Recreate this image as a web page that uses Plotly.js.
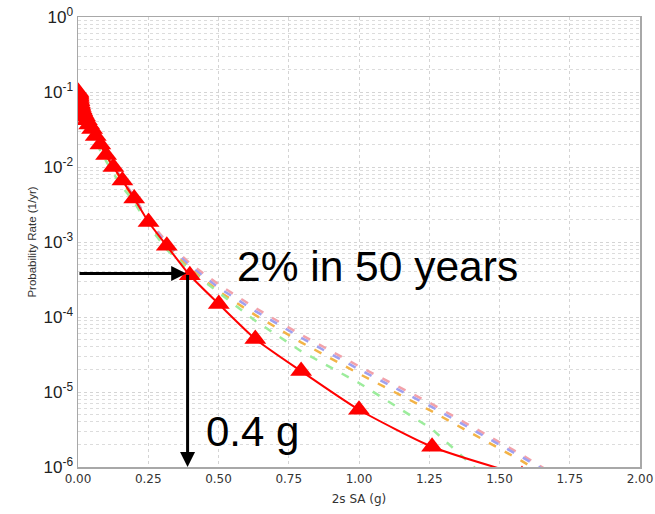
<!DOCTYPE html>
<html>
<head>
<meta charset="utf-8">
<script src="https://cdn.plot.ly/plotly-3.0.1.min.js"></script>
<style>html,body{margin:0;padding:0;background:#fff;}#chart{width:655px;height:514px;}</style>
</head>
<body>
<div id="chart"></div>
<script>
// Intensity measure levels (2s SA, g)
var iml = [0.001,0.00126,0.00158,0.002,0.00251,0.00316,0.00398,0.00501,0.00631,0.00794,
           0.01,0.0126,0.0158,0.02,0.0251,0.0316,0.0398,0.0501,0.0631,0.0794,
           0.1,0.126,0.158,0.2,0.251,0.316,0.398,0.501,0.631,0.794,1.0,1.26,1.58,2.0];

// Mean hazard curve (red, triangles)
var meanRate = [0.100,0.097,0.094,0.091,0.087,0.083,0.079,0.075,0.071,0.067,
                0.063,0.059,0.055,0.051,0.047,0.042,0.037,0.032,0.026,0.020,
                0.0145,0.0100,0.0066,0.0038,0.00185,0.00089,0.00036,0.000149,0.000051,0.0000190,
                0.0000058,0.00000186,0.00000078,0.00000030];

// Dashed branch curves
var pinkRate = [0.101,0.098,0.095,0.092,0.088,0.084,0.080,0.076,0.072,0.068,
                0.064,0.060,0.056,0.052,0.048,0.043,0.038,0.033,0.027,0.021,
                0.0150,0.0104,0.0069,0.0040,0.00195,0.00100,0.00052,0.00027,0.000132,0.000058,
                0.000022,0.0000069,0.00000145,0.00000016];
var blueRate = [0.100,0.097,0.094,0.091,0.087,0.083,0.079,0.075,0.071,0.067,
                0.063,0.059,0.055,0.051,0.047,0.042,0.037,0.032,0.026,0.020,
                0.0146,0.0101,0.0067,0.0039,0.00185,0.00093,0.00048,0.000245,0.000120,0.000053,
                0.000020,0.0000063,0.00000135,0.00000017];
var orangeRate = [0.099,0.096,0.093,0.090,0.086,0.082,0.078,0.074,0.070,0.066,
                0.062,0.058,0.054,0.050,0.046,0.041,0.036,0.031,0.025,0.0195,
                0.0142,0.0098,0.0064,0.0037,0.00175,0.00086,0.00044,0.000220,0.000106,0.000046,
                0.0000175,0.0000055,0.0000012,0.00000013];
var greenRate = [0.095,0.092,0.089,0.086,0.082,0.078,0.074,0.070,0.066,0.062,
                0.058,0.054,0.050,0.046,0.042,0.037,0.032,0.027,0.022,0.0165,
                0.0120,0.0082,0.0054,0.0034,0.00166,0.00079,0.00042,0.00021,0.000089,0.000035,
                0.0000132,0.0000032,0.00000025,0.00000001];

// Axis tick values / labels
var yTickVals = [1e-6,1e-5,1e-4,1e-3,1e-2,1e-1,1];
var yTickText = ['10<sup>-6</sup>','10<sup>-5</sup>','10<sup>-4</sup>','10<sup>-3</sup>','10<sup>-2</sup>','10<sup>-1</sup>','10<sup>0</sup>'];
var xTickVals = [0,0.25,0.5,0.75,1.0,1.25,1.5,1.75,2.0];

// Design point: 2% in 50 years
var designRate = 3.8e-4;
var designSA = 0.39;

var dashPat = '8px,10px';
function dashed(y, color){
  return {x: iml, y: y, type:'scatter', mode:'lines', showlegend:false, hoverinfo:'skip',
          line:{color:color, width:2.5, dash:dashPat}};
}

var traces = [
  dashed(pinkRate, '#f2a2aa'),
  dashed(blueRate, '#a0a0f0'),
  dashed(orangeRate, '#f3b347'),
  dashed(greenRate, '#9cec9c'),
  {x: iml, y: meanRate, type:'scatter', mode:'lines+markers', showlegend:false,
   line:{color:'#ff0000', width:2, shape:'spline', smoothing:0.6},
   marker:{symbol:'triangle-up', size:19, color:'#ff0000'}}
];

var L = Math.log10;
var layout = {
  width:655, height:514,
  margin:{l:78, r:15, t:17, b:47},
  paper_bgcolor:'#ffffff', plot_bgcolor:'#ffffff',
  showlegend:false,
  xaxis:{
    range:[0,2], tickmode:'array', tickvals:xTickVals, tickformat:'.2f',
    showgrid:true, gridcolor:'#d4d4d4', griddash:'dot', gridwidth:1,
    zeroline:false, showline:true, mirror:true, linecolor:'#a8a8a8', linewidth:1.5,
    ticks:'', tickfont:{family:'DejaVu Sans', size:12, color:'#333333'},
    title:{text:'2s SA (g)', font:{family:'DejaVu Sans', size:12, color:'#333333'}, standoff:9}
  },
  yaxis:{
    type:'log', range:[-6,0], tickmode:'array', tickvals:yTickVals, ticktext:yTickText,
    showgrid:true, gridcolor:'#d4d4d4', griddash:'dot', gridwidth:1,
    minor:{dtick:'D1', showgrid:true, gridcolor:'#dcdcdc', griddash:'dot', gridwidth:1, ticks:''},
    zeroline:false, showline:true, mirror:true, linecolor:'#a8a8a8', linewidth:1.5,
    ticks:'', ticklabelstandoff:0,
    tickfont:{family:'Liberation Sans', size:17, color:'#222222'},
    title:{text:'Probability Rate (1/yr)', font:{family:'Liberation Sans', size:11.5, color:'#333333'}, standoff:4}
  },
  annotations:[
    {xref:'x', yref:'y', axref:'x', ayref:'y', x:designSA-0.005, y:L(designRate), ax:0, ay:L(designRate),
     text:'', showarrow:true, arrowhead:2, arrowsize:1, arrowwidth:3, arrowcolor:'#000000', standoff:0},
    {xref:'x', yref:'y', axref:'x', ayref:'y', x:designSA, y:-6, ax:designSA, ay:L(designRate),
     text:'', showarrow:true, arrowhead:2, arrowsize:1, arrowwidth:3, arrowcolor:'#000000', standoff:0},
    {xref:'x', yref:'y', x:0.558, y:-3.33, xanchor:'left', yanchor:'middle', showarrow:false,
     text:'2% in 50 years', font:{family:'Liberation Sans', size:42.5, color:'#000000'}},
    {xref:'x', yref:'y', x:0.448, y:-5.53, xanchor:'left', yanchor:'middle', showarrow:false,
     text:'0.4 g', font:{family:'Liberation Sans', size:42, color:'#000000'}}
  ]
};

Plotly.newPlot('chart', traces, layout, {displayModeBar:false, staticPlot:true});
</script>
</body>
</html>
